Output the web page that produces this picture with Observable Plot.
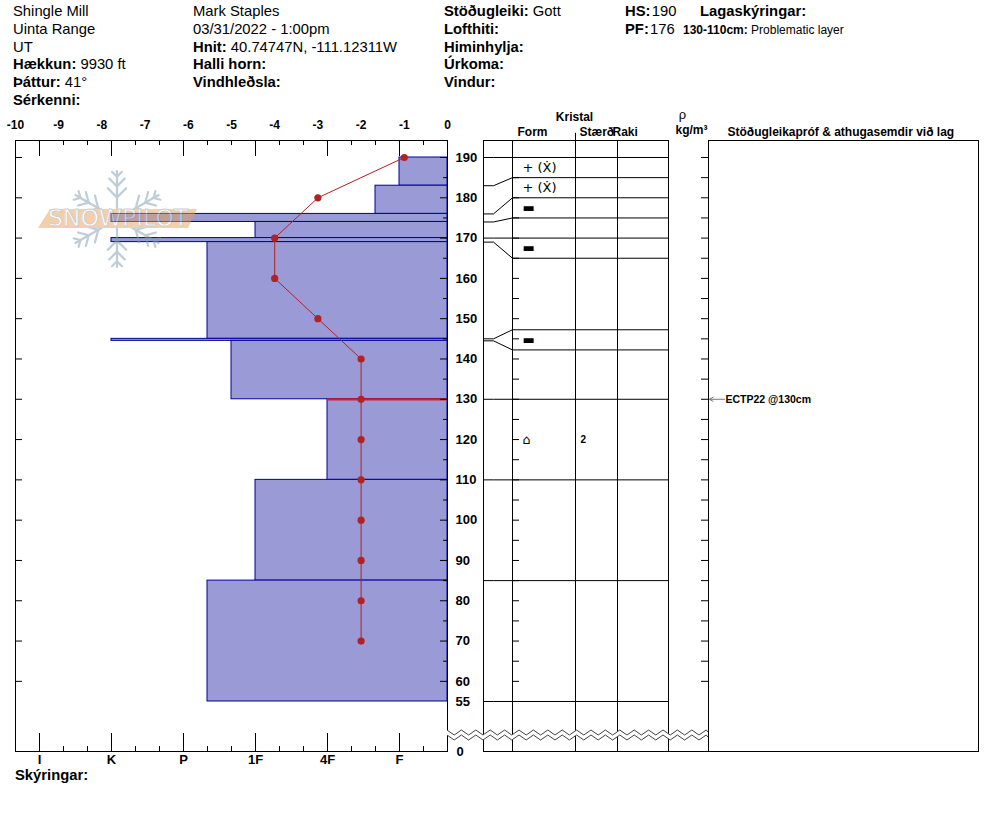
<!DOCTYPE html>
<html><head><meta charset="utf-8">
<script src="https://cdn.jsdelivr.net/npm/d3@7"></script>
<script src="https://cdn.jsdelivr.net/npm/@observablehq/plot@0.6"></script>
<style>
body{margin:0;background:#fff;}
#wrap{position:relative;width:994px;height:840px;font-family:"Liberation Sans",Arial,sans-serif;color:#000;overflow:hidden;}
#wrap svg{position:absolute;left:0;top:0;max-width:none;}
.h{position:absolute;font-size:14.8px;line-height:17.8px;white-space:nowrap;}
.h b{font-weight:bold;}
</style></head><body><div id="wrap"></div>
<script>
// ---------- DATA ----------
const layerTop      = [190, 183, 176, 174, 170, 169, 145, 144.5, 130, 110, 85];
const layerBottom   = [183, 176, 174, 170, 169, 145, 144.5, 130, 110, 85, 55];
const layerHardness = ["F", "F+", "K", "1F", "K", "P-", "K", "1F+", "4F", "1F", "P-"];
const layerGrain    = ["+ (Ẋ)", "+ (Ẋ)", "▬", "", "▬", "", "▬", "", "⌂", "", ""];
const layerSize     = ["", "", "", "", "", "", "", "", "2", "", ""];
const boundaryDepth   = [190, 183, 176, 174, 170, 169, 145, 144.5, 130, 110, 85, 55];
const boundaryDisplay = [190, 185, 180, 175, 170, 165, 147.25, 142.25, 130, 110, 85, 55];
const tempDepth = [190, 180, 170, 160, 150, 140, 130, 120, 110, 100, 90, 80, 70];
const tempValue = [-1, -3, -4, -4, -3, -2, -2, -2, -2, -2, -2, -2, -2];
const tempTicks = [-10, -9, -8, -7, -6, -5, -4, -3, -2, -1, 0];
const hardnessCodes = ["F-","F","F+","4F-","4F","4F+","1F-","1F","1F+","P-","P","P+","K-","K","K+","I-","I","I+"];
const hardnessLabels = ["I", "K", "P", "1F", "4F", "F"];
const depthLabels = [190, 180, 170, 160, 150, 140, 130, 120, 110, 100, 90, 80, 70, 60, 55];
const groundLabel = ["0"];
const problematicLayer = [{top: 130, bottom: 110, label: "Problematic layer"}];
const stabilityTests = [{depth: 130, text: "ECTP22 @130cm"}];

// ---------- LAYOUT ----------
const W = 994, H = 800;
const L = {chartL: 15, chartR: 447, connL: 483, connKink: 493, connR: 512, colSize: 575, colMoist: 617,
  colDens: 668, colTest: 708, right: 978, labelX: 455, grainX: 522, sizeX: 580, testX: 724};
const yScale = {domain: [190, 55], range: [157, 701], axis: null};
const breakGap = 50; // px between 55 cm and the ground line
const frameH = 751 - 140;
const baseStyle = {background: "transparent", overflow: "visible", fontFamily: "'Liberation Sans', Arial, sans-serif"};
const common = {width: W, height: H, marginTop: 140, marginBottom: H - 751, style: baseStyle};

const hIdx = c => hardnessCodes.indexOf(c) + 1;
const layers = layerTop.map((t, i) => ({top: t, bottom: layerBottom[i], h: hIdx(layerHardness[i]),
  grain: layerGrain[i], size: layerSize[i],
  mid: (boundaryDisplay[i] + boundaryDisplay[i + 1]) / 2}));
const temps = tempDepth.map((d, i) => ({d, t: tempValue[i]}));
const minorH = d3.range(1, 18);
const majorH = hardnessLabels.map(hIdx);

const wrap = document.getElementById("wrap");

// ---------- Plot A: layers by hand hardness ----------
const plotA = Plot.plot({...common, marginLeft: L.chartL, marginRight: W - L.chartR,
  x: {domain: [18, 0], axis: null}, y: yScale,
  marks: [
    Plot.rect(layers, {x1: () => 0, x2: "h", y1: "top", y2: "bottom", fill: "#9a9ad6", stroke: "#00009c", strokeWidth: 1}),
    Plot.ruleY(problematicLayer, {y: "top", x1: d => layers.find(l => l.top === d.top).h, x2: () => 0, stroke: "#d42222", strokeWidth: 2.2}),
    Plot.frame({stroke: "black"}),
    Plot.ruleX(minorH, {x: d => d, insetBottom: frameH - 5, stroke: "black"}),
    Plot.ruleX(majorH, {x: d => d, insetBottom: frameH - 16, stroke: "black"}),
    Plot.ruleX(minorH, {x: d => d, insetTop: frameH - 5, stroke: "black"}),
    Plot.ruleX(majorH, {x: d => d, insetTop: frameH - 18, stroke: "black"}),
    Plot.text(hardnessLabels, {x: d => hIdx(d), text: d => d, frameAnchor: "bottom", lineAnchor: "middle", dy: 8.5, fontWeight: "bold", fontSize: 13})
  ]});
wrap.appendChild(plotA);

// ---------- Plot B: temperature profile ----------
const plotB = Plot.plot({...common, marginLeft: L.chartL, marginRight: W - L.chartR,
  x: {domain: [-10, 0], axis: null}, y: yScale,
  marks: [
    Plot.line(temps, {x: "t", y: "d", stroke: "#b22222", strokeWidth: 1}),
    Plot.dot(temps, {x: "t", y: "d", r: 3.6, fill: "#b22222", stroke: "none"}),
    Plot.text(tempTicks, {x: d => d, text: d => String(d), frameAnchor: "top", lineAnchor: "middle", dy: -15, fontWeight: "bold", fontSize: 12})
  ]});
wrap.appendChild(plotB);

// ---------- Plot C: depth axis, crystal table, stability column ----------
const ticks5 = d3.range(60, 191, 5);
const ticks10 = ticks5.filter(d => d % 10 === 0);
const ticksOdd = ticks5.filter(d => d % 10 !== 0);
const connectors = boundaryDepth.flatMap((d, i) => [
  {i, x: L.connL, y: d}, {i, x: L.connKink, y: d}, {i, x: L.connR, y: boundaryDisplay[i]}]);
const hdr = (txt, x, dy, o = {}) => Plot.text([txt], {x, frameAnchor: "top", lineAnchor: "middle", dy, text: d => d, fontWeight: "bold", fontSize: 12, ...o});
const plotC = Plot.plot({...common, marginLeft: 0, marginRight: 0,
  x: {type: "identity", axis: null}, y: yScale,
  marks: [
    Plot.ruleY(ticks10, {y: d => d, x1: L.chartL, x2: L.chartL + 7, stroke: "black"}),
    Plot.ruleY(ticks10, {y: d => d, x1: L.chartR - 7, x2: L.chartR, stroke: "black"}),
    Plot.ruleY(ticksOdd, {y: d => d, x1: L.chartR - 4, x2: L.chartR, stroke: "black"}),
    Plot.text(depthLabels, {y: d => d, x: L.labelX, text: d => String(d), textAnchor: "start", fontWeight: "bold", fontSize: 13}),
    Plot.text(groundLabel, {x: L.labelX + 1, frameAnchor: "bottom", lineAnchor: "middle", text: d => d, textAnchor: "start", fontWeight: "bold", fontSize: 13}),
    Plot.frame({insetLeft: L.connL, insetRight: W - L.colDens, stroke: "black"}),
    Plot.frame({insetLeft: L.colTest, insetRight: W - L.right, stroke: "black"}),
    Plot.ruleX([L.connR, L.colSize, L.colMoist, L.colTest], {x: d => d, stroke: "black"}),
    Plot.ruleY([55], {y: d => d, dy: breakGap, x1: L.colDens, x2: L.colTest, stroke: "black"}),
    Plot.ruleY(ticks5, {y: d => d, x1: L.connR, x2: L.connR + 7, stroke: "black"}),
    Plot.ruleY(ticks5, {y: d => d, x1: L.colTest - 7, x2: L.colTest, stroke: "black"}),
    Plot.ruleY(boundaryDisplay, {y: d => d, x1: L.connR, x2: L.colDens, stroke: "black"}),
    Plot.line(connectors, {x: "x", y: "y", z: "i", stroke: "black", strokeWidth: 1}),
    Plot.text(layers.filter(d => d.grain), {x: L.grainX, y: "mid", text: "grain", textAnchor: "start", fontSize: 13, fontFamily: "DejaVu Sans"}),
    Plot.text(layers.filter(d => d.size), {x: L.sizeX, y: "mid", text: "size", textAnchor: "start", fontSize: 10, fontWeight: "bold"}),
    Plot.ruleX([L.colSize], {x: d => d, y1: 196, y2: 194, stroke: "black"}),
    hdr("Kristal", 574, -23),
    hdr("Form", 532, -8),
    hdr("Stærð", 579, -8, {textAnchor: "start"}),
    hdr("Raki", 612, -8, {textAnchor: "start"}),
    hdr("ρ", 682, -26, {fontWeight: "normal", fontSize: 13}),
    hdr("kg/m³", 691, -10),
    hdr("Stöðugleikapróf & athugasemdir við lag", 727, -8, {textAnchor: "start"}),
    Plot.arrow(stabilityTests, {x1: L.testX, x2: L.colTest + 1, y1: "depth", y2: "depth", stroke: "#777", strokeWidth: 1, headLength: 6}),
    Plot.text(stabilityTests, {x: L.testX + 1, y: "depth", text: "text", textAnchor: "start", fontWeight: "bold", fontSize: 10.5})
  ]});
wrap.appendChild(plotC);

// ---------- decoration overlay: logo + axis break ----------
const deco = d3.create("svg").attr("width", W).attr("height", H).attr("viewBox", `0 0 ${W} ${H}`);
const logo = deco.append("g").attr("opacity", 0.5);
const cx = 117, cy = 219, R = 48;
const flake = logo.append("g").attr("stroke", "#7f9cb0").attr("stroke-width", 2.2).attr("fill", "none").attr("stroke-linecap", "round");
for (let k = 0; k < 6; k++) {
  const a = (90 + k * 60) * Math.PI / 180;
  const ux = Math.cos(a), uy = -Math.sin(a);
  flake.append("line").attr("x1", cx).attr("y1", cy).attr("x2", cx + ux * R).attr("y2", cy + uy * R);
  for (const [s, b] of [[0.45, 13], [0.68, 11], [0.88, 7]]) {
    const px = cx + ux * R * s, py = cy + uy * R * s;
    for (const sg of [-1, 1]) {
      const bA = a + sg * Math.PI / 4;
      flake.append("line").attr("x1", px).attr("y1", py)
        .attr("x2", px + Math.cos(bA) * b).attr("y2", py - Math.sin(bA) * b);
    }
  }
}
logo.append("path").attr("d", "M50,209 L197,209 L188,228 L38,228 Z").attr("fill", "#e8a15e");
logo.append("text").attr("x", 48).attr("y", 226).attr("textLength", 140).attr("lengthAdjust", "spacingAndGlyphs")
  .attr("font-family", "DejaVu Sans").attr("font-size", 23).attr("fill", "white").attr("stroke", "#999").attr("stroke-width", 0.8)
  .text("SNOWPILOT");
// zigzag break
const x0 = L.chartR, x1 = L.colTest, step = 7.2;
const up = [], lo = [];
for (let x = x0, j = 0; x <= x1 + 0.01; x += step, j++) { up.push([x, j % 2 ? 735 : 730]); lo.push([x, j % 2 ? 740 : 735]); }
if (up[up.length - 1][0] < x1) { up.push([x1, 732]); lo.push([x1, 737]); }
deco.append("path").attr("d", "M" + up.map(p => p.join(",")).join("L") + "L" + lo.slice().reverse().map(p => p.join(",")).join("L") + "Z")
  .attr("fill", "white").attr("stroke", "none");
deco.append("path").attr("d", "M" + up.map(p => p.join(",")).join("L")).attr("fill", "none").attr("stroke", "#444").attr("stroke-width", 1);
deco.append("path").attr("d", "M" + lo.map(p => p.join(",")).join("L")).attr("fill", "none").attr("stroke", "#444").attr("stroke-width", 1);
wrap.appendChild(deco.node());

// ---------- header text ----------
function col(left, top, html) { const d = document.createElement("div"); d.className = "h"; d.style.left = left + "px"; d.style.top = top + "px"; d.innerHTML = html; wrap.appendChild(d); }
col(13, 3, "Shingle Mill<br>Uinta Range<br>UT<br><b>Hækkun:</b> 9930 ft<br><b>Þáttur:</b> 41°<br><b>Sérkenni:</b>");
col(193, 3, "Mark Staples<br>03/31/2022 - 1:00pm<br><b>Hnit:</b> 40.74747N, -111.12311W<br><b>Halli horn:</b><br><b>Vindhleðsla:</b>");
col(444, 3, "<b>Stöðugleiki:</b> Gott<br><b>Lofthiti:</b><br><b>Himinhylja:</b><br><b>Úrkoma:</b><br><b>Vindur:</b>");
col(625, 3, "<b>HS:</b>&#8202;190<br><b>PF:</b>&#8202;176");
col(700, 3, "<b>Lagaskýringar:</b>");
const leg = document.createElement("div"); leg.className = "h"; leg.style.left = "683px"; leg.style.top = "22px"; leg.style.fontSize = "12px";
leg.innerHTML = `<b>130-110cm:</b> ${problematicLayer[0].label}`; wrap.appendChild(leg);
col(15, 767, "<b>Skýringar:</b>");
</script></body></html>
